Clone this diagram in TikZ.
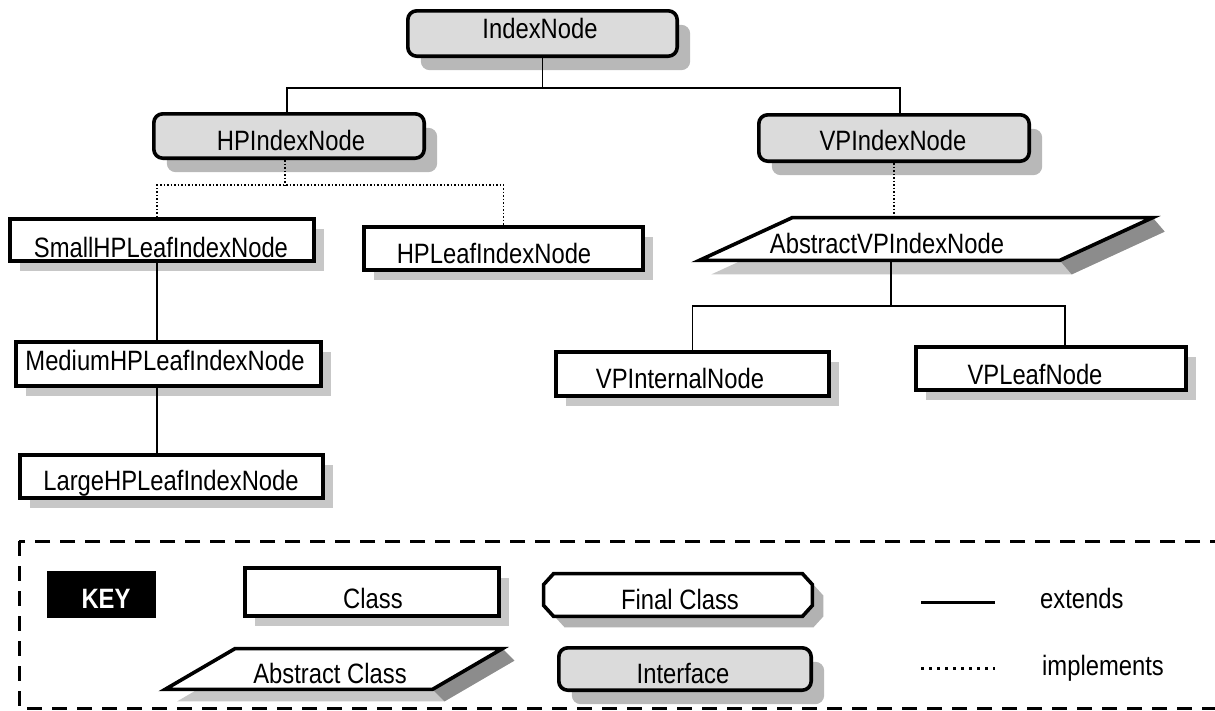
\documentclass[tikz,border=0pt]{standalone}
\usepackage{fontspec}
\setmainfont{Liberation Sans}[FakeStretch=0.85]
\usetikzlibrary{shadows,calc}
\begin{document}
\begin{tikzpicture}[x=1pt,y=-1pt,
  box/.style={draw, line width=3.6pt, inner sep=0pt},
  iface/.style={box, rounded corners=9pt, fill=black!14,
    drop shadow={shadow xshift=13pt, shadow yshift=-14pt, fill=black!28, opacity=1}},
  cls/.style={box, fill=white,
    drop shadow={shadow xshift=10pt, shadow yshift=-10pt, fill=black!22, opacity=1}},
  core/.style={inner sep=0pt},
  absline/.style={draw, line width=3.6pt, fill=white},
  shlight/.style={fill=black!22},
  shdark/.style={fill=black!45},
  lbl/.style={anchor=base, inner sep=0pt, font=\fontsize{28}{30}\selectfont},
  lblw/.style={anchor=base west, inner sep=0pt, font=\fontsize{28}{30}\selectfont},
  ext/.style={line width=1.8pt},
  impl/.style={line width=1.5pt, dash pattern=on 1.5pt off 2pt},
]
\useasboundingbox (0,0) rectangle (1215,710);
\fill[white] (0,0) rectangle (1215,710);
\clip (0,0) rectangle (1215,710);

% ---------- hierarchy boxes ----------
\node[iface, minimum width=269.4pt, minimum height=45.4pt] (index) at (542.5,33.5) {};
\node[iface, minimum width=270.4pt, minimum height=44.4pt] (hp) at (289,136) {};
\node[iface, minimum width=270.4pt, minimum height=46.4pt] (vp) at (894,138) {};
\node[cls, minimum width=304.4pt, minimum height=42.4pt] (small) at (162,240) {};
\node[cls, minimum width=279.4pt, minimum height=43.4pt] (hpleaf) at (503.5,248.5) {};
\node[cls, minimum width=305.4pt, minimum height=44.4pt] (medium) at (168.5,364) {};
\node[cls, minimum width=303.4pt, minimum height=43.4pt] (large) at (171.5,476.5) {};
\node[cls, minimum width=273.4pt, minimum height=44.4pt] (vpi) at (692.5,374) {};
\node[cls, minimum width=270.4pt, minimum height=43.4pt] (vpl) at (1051,368.5) {};

% abstract VP index node (parallelogram)
\node[core, minimum width=360pt, minimum height=42.4pt] (avp) at (926,239) {};
\fill[shlight] ($(avp.north west)+(58.5,14)$) -- ($(avp.north east)+(58.5,14)$)
  -- ($(avp.south east)+(-34.5,14)$) -- ($(avp.south west)+(-34.5,14)$) -- cycle;
\fill[shdark] ($(avp.north east)+(46.5,0)$) -- ($(avp.north east)+(58.5,14)$)
  -- ($(avp.south east)+(-34.5,14)$) -- ($(avp.south east)+(-46.5,0)$) -- cycle;
\path[absline] ($(avp.north west)+(46.5,0)$) -- ($(avp.north east)+(46.5,0)$)
  -- ($(avp.south east)+(-46.5,0)$) -- ($(avp.south west)+(-46.5,0)$) -- cycle;

% labels
\node[lbl] (index-t) at (540,38) {IndexNode};
\node[lbl] (hp-t) at (291,150) {HPIndexNode};
\node[lbl] (vp-t) at (893,150) {VPIndexNode};
\node[lbl] (small-t) at (161,257) {SmallHPLeafIndexNode};
\node[lbl] (hpleaf-t) at (494,263) {HPLeafIndexNode};
\node[lbl] (medium-t) at (165,370) {MediumHPLeafIndexNode};
\node[lbl] (large-t) at (171,490) {LargeHPLeafIndexNode};
\node[lbl] (avp-t) at (887,253) {AbstractVPIndexNode};
\node[lbl] (vpi-t) at (680,388) {VPInternalNode};
\node[lbl] (vpl-t) at (1035,384) {VPLeafNode};

% ---------- connectors ----------
\coordinate (bus1) at (541,88);
\draw[ext] (index.south) -- (index.south |- bus1);
\draw[ext] ([xshift=-2pt]hp.north) |- ([xshift=6pt]vp.north |- bus1) -- ([xshift=6pt]vp.north);

\coordinate (bus2) at (285,185);
\draw[impl] ([xshift=-4pt]hp.south) -- ([xshift=-4pt]hp.south |- bus2);
\draw[impl] ([xshift=-5pt]small.north) |- (hpleaf.north |- bus2) -- (hpleaf.north);

\draw[ext] ([xshift=-5pt]small.south) -- ([xshift=-11.5pt]medium.north);
\draw[ext] ([xshift=-11.5pt]medium.south) -- ([xshift=-14.5pt]large.north);

\draw[impl] (vp.south) -- (vp.south |- avp.north);

\coordinate (bus3) at (891,306);
\draw[ext] (bus3 |- avp.south) -- (bus3);
\draw[ext] (vpi.north) |- ([xshift=14pt]vpl.north |- bus3) -- ([xshift=14pt]vpl.north);

% ---------- key ----------
\draw[line width=3pt, dash pattern=on 15pt off 10pt] (19,541) rectangle (1230,708);

\node[fill=black, inner sep=0pt, minimum width=109pt, minimum height=47pt] (keybox) at (101.5,594.5) {};
\node[lbl, text=white, font=\fontsize{28}{30}\selectfont\bfseries] (key-t) at (106,608) {KEY};

\node[cls, minimum width=254.4pt, minimum height=48.4pt] (kclass) at (372,592) {};
\node[lbl] (kclass-t) at (373,608) {Class};

% final class (chamfered)
\node[core, minimum width=268.4pt, minimum height=42.4pt] (kfinal) at (678,595) {};
\fill[black!30] ([xshift=21pt,yshift=-11pt]kfinal.north west) -- ([xshift=1pt,yshift=-11pt]kfinal.north east)
  -- ([xshift=11pt,yshift=-22pt]kfinal.north east) -- ([xshift=11pt,yshift=0pt]kfinal.south east)
  -- ([xshift=1pt,yshift=-11pt]kfinal.south east) -- ([xshift=21pt,yshift=-11pt]kfinal.south west)
  -- ([xshift=11pt,yshift=0pt]kfinal.south west) -- ([xshift=11pt,yshift=-22pt]kfinal.north west) -- cycle;
\path[absline] ([xshift=10pt]kfinal.north west) -- ([xshift=-10pt]kfinal.north east)
  -- ([yshift=-11pt]kfinal.north east) -- ([yshift=11pt]kfinal.south east)
  -- ([xshift=-10pt]kfinal.south east) -- ([xshift=10pt]kfinal.south west)
  -- ([yshift=11pt]kfinal.south west) -- ([yshift=-11pt]kfinal.north west) -- cycle;
\node[lbl] (kfinal-t) at (680,609) {Final Class};

% abstract class (parallelogram)
\node[core, minimum width=267pt, minimum height=40.4pt] (kabs) at (333.75,669) {};
\fill[shlight] ($(kabs.north west)+(47,12)$) -- ($(kabs.north east)+(47,12)$)
  -- ($(kabs.south east)+(-23,12)$) -- ($(kabs.south west)+(-23,12)$) -- cycle;
\fill[shdark] ($(kabs.north east)+(35,0)$) -- ($(kabs.north east)+(47,12)$)
  -- ($(kabs.south east)+(-23,12)$) -- ($(kabs.south east)+(-35,0)$) -- cycle;
\path[absline] ($(kabs.north west)+(35,0)$) -- ($(kabs.north east)+(35,0)$)
  -- ($(kabs.south east)+(-35,0)$) -- ($(kabs.south west)+(-35,0)$) -- cycle;
\node[lbl] (kabs-t) at (330,683) {Abstract Class};

\node[iface, minimum width=252.4pt, minimum height=42.4pt] (kiface) at (685,669) {};
\node[lbl] (kiface-t) at (683,683) {Interface};

\coordinate (e1) at (921,602);
\coordinate (e2) at (995,602);
\draw[line width=3pt] (e1) -- (e2);
\node[lblw] (ext-t) at (1040,608) {extends};

\coordinate (i1) at (921,668);
\coordinate (i2) at (995,668);
\draw[line width=3pt, dash pattern=on 3pt off 5pt] (i1) -- (i2);
\node[lblw] (impl-t) at (1042,675) {implements};
\end{tikzpicture}
\end{document}
